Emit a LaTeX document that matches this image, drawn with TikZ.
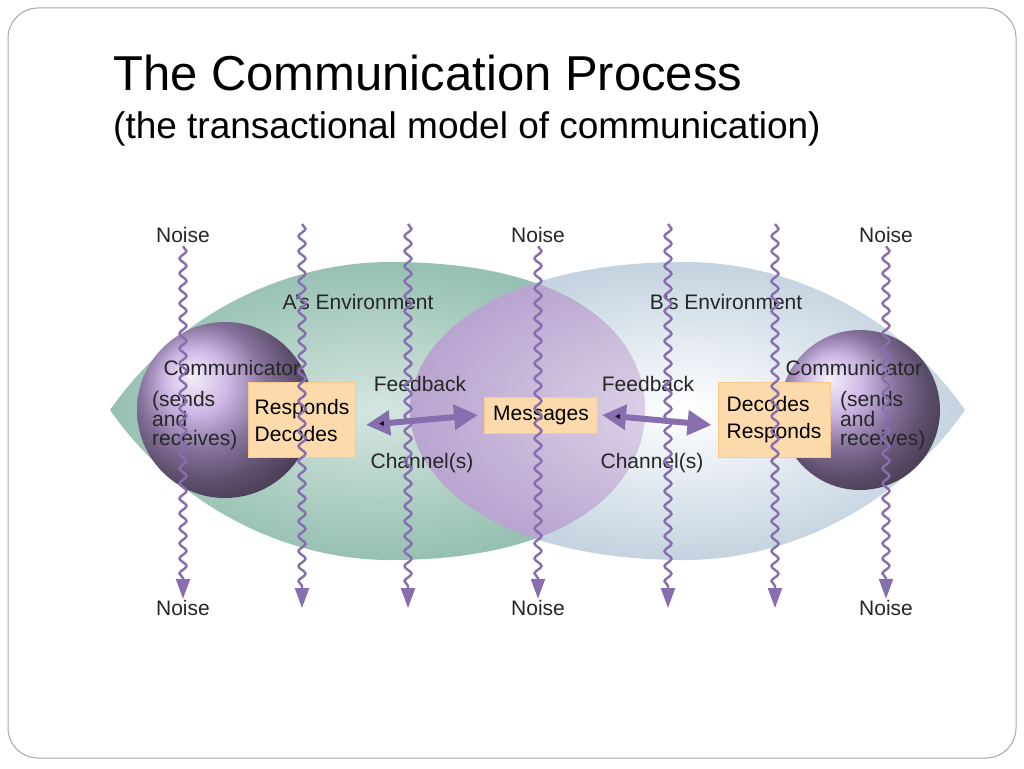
\documentclass[tikz,border=0pt]{standalone}
\usepackage{fontspec}
\setmainfont{Liberation Sans}
\usetikzlibrary{decorations.pathmorphing,arrows.meta}
\definecolor{wave}{RGB}{135,110,175}
\definecolor{envA}{RGB}{150,192,178}
\definecolor{envB}{RGB}{196,211,224}
\definecolor{lens}{RGB}{185,165,208}
\definecolor{peach}{RGB}{252,218,172}
\definecolor{ball}{RGB}{190,160,220}
\tikzset{
 lbl/.style={font=\fontsize{21}{22}\selectfont, text=black!85},
 box/.style={draw=peach!80!orange, fill=peach, line width=1pt, font=\fontsize{21}{24}\selectfont, align=left},
 noise/.style={wave, line width=2.4pt, decorate, decoration={snake, amplitude=3.5pt, segment length=15pt, post length=18pt}, -{Triangle[length=20pt,width=14pt]}},
 darr/.style={wave, line width=6pt, {Triangle[length=24pt,width=24pt,fill=black!85!wave]}-{Triangle[length=24pt,width=24pt]}}
}
\begin{document}
\begin{tikzpicture}[x=1pt,y=-1pt]
\useasboundingbox (0,0) rectangle (1024,768);
\fill[white] (0,0) rectangle (1024,768);
\draw[gray!70, line width=1pt, rounded corners=30pt] (8,8) rectangle (1016,758);
\node[anchor=base west, font=\fontsize{49}{50}\selectfont, inner sep=0pt] (t1) at (113,90) {The Communication Process};
\node[anchor=base west, font=\fontsize{37}{38}\selectfont, inner sep=0pt] (t2) at (113,138) {(the transactional model of communication)};
% environments
\def\pathA{(110,410) .. controls (180,310) and (290,262) .. (390,262) .. controls (580,262) and (645,340) .. (645,410) .. controls (645,480) and (580,560) .. (390,560) .. controls (290,560) and (180,510) .. (110,410) -- cycle}
\def\pathB{(965,410) .. controls (895,310) and (785,262) .. (685,262) .. controls (495,262) and (410,340) .. (410,410) .. controls (410,480) and (495,560) .. (685,560) .. controls (785,560) and (895,510) .. (965,410) -- cycle}
\shade[inner color=white, outer color=envB] \pathB;
\shade[inner color=white!60!envA, outer color=envA] \pathA;
\begin{scope}
\clip \pathA;
\shade[inner color=lens!45!white, outer color=lens] \pathB;
\end{scope}
\node[lbl] (ea) at (358,302) {A’s Environment};
\node[lbl] (eb) at (726,302) {B’s Environment};
% balls
\shade[ball color=ball] (225,410) circle (88);
\shade[ball color=ball] (860,410) circle (80);
\node[lbl, anchor=west] (ca) at (160,368) {Communicator};
\node[lbl, anchor=north west, align=left, font=\fontsize{21}{19}\selectfont, inner sep=0pt] (sa) at (152,391) {(sends\\and\\receives)};
\node[lbl, anchor=west] (cb) at (782,368) {Communicator};
\node[lbl, anchor=north west, align=left, font=\fontsize{21}{19}\selectfont, inner sep=0pt] (sb) at (840,391) {(sends\\and\\receives)};
% boxes
\node[box, minimum width=107pt, minimum height=75pt, inner sep=5pt] (ra) at (302,420) {Responds\\[3pt]Decodes};
\node[box, minimum width=113pt, minimum height=36pt] (msg) at (541,415) {Messages};
\node[box, minimum width=112pt, minimum height=75pt, inner sep=5pt] (rb) at (774,420) {Decodes\\[3pt]Responds};
\node[lbl] (fa) at (420,384) {Feedback};
\node[lbl] (fb) at (648,384) {Feedback};
\node[lbl] (cha) at (422,463) {Channel(s)};
\node[lbl] (chb) at (652,463) {Channel(s)};
\draw[darr] ([xshift=10pt,yshift=-5pt]ra.east) -- ([xshift=-6pt]msg.west);
\draw[darr] ([xshift=4pt]msg.east) -- ([xshift=-6pt,yshift=-5pt]rb.west);
% noise
\foreach \x/\n in {183/n1,538/n2,886/n3}{
  \node[lbl] (\n t) at (\x,235) {Noise};
  \node[lbl] (\n b) at (\x,608) {Noise};
  \draw[noise] (\n t.south) -- ([yshift=-2pt]\n b.north);
}
\foreach \x in {302,408,668,775}{
  \coordinate (w\x a) at (\x,224);
  \coordinate (w\x b) at (\x,608);
  \draw[noise] (w\x a) -- (w\x b);
}
\end{tikzpicture}
\end{document}
